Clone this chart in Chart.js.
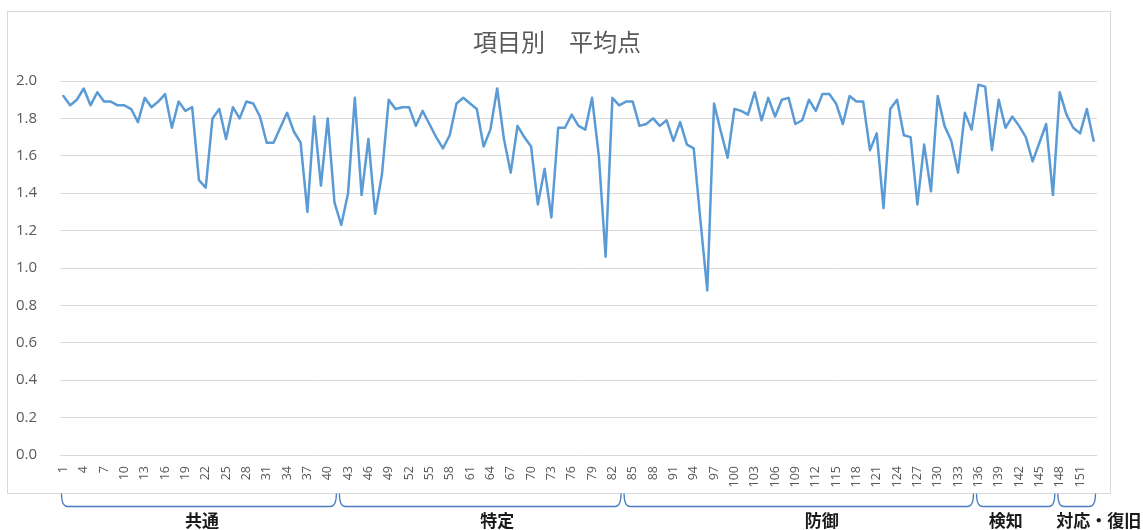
<!DOCTYPE html>
<html>
<head>
<meta charset="utf-8">
<script src="https://cdn.jsdelivr.net/npm/chart.js@4.4.1/dist/chart.umd.min.js"></script>
<style>
  html, body { margin: 0; padding: 0; background: #ffffff; }
  canvas { display: block; }
</style>
</head>
<body>
<canvas id="c" width="1143" height="530"></canvas>
<script>
// ---- data ----
const chartTitle = "項目別　平均点";
const groupNames = ["共通", "特定", "防御", "検知", "対応・復旧"];
const groupSizes = [41, 42, 52, 12, 6];
const yTicks = [0.0, 0.2, 0.4, 0.6, 0.8, 1.0, 1.2, 1.4, 1.6, 1.8, 2.0];
const scores = [
  1.92, 1.87, 1.90, 1.96, 1.87, 1.94, 1.89, 1.89, 1.87, 1.87,
  1.85, 1.78, 1.91, 1.86, 1.89, 1.93, 1.75, 1.89, 1.84, 1.86,
  1.47, 1.43, 1.80, 1.85, 1.69, 1.86, 1.80, 1.89, 1.88, 1.81,
  1.67, 1.67, 1.75, 1.83, 1.73, 1.67, 1.30, 1.81, 1.44, 1.80,
  1.35, 1.23, 1.40, 1.91, 1.39, 1.69, 1.29, 1.50, 1.90, 1.85,
  1.86, 1.86, 1.76, 1.84, 1.77, 1.70, 1.64, 1.71, 1.88, 1.91,
  1.88, 1.85, 1.65, 1.74, 1.96, 1.69, 1.51, 1.76, 1.70, 1.65,
  1.34, 1.53, 1.27, 1.75, 1.75, 1.82, 1.76, 1.74, 1.91, 1.60,
  1.06, 1.91, 1.87, 1.89, 1.89, 1.76, 1.77, 1.80, 1.76, 1.79,
  1.68, 1.78, 1.66, 1.64, 1.25, 0.88, 1.88, 1.73, 1.59, 1.85,
  1.84, 1.82, 1.94, 1.79, 1.91, 1.81, 1.90, 1.91, 1.77, 1.79,
  1.90, 1.84, 1.93, 1.93, 1.88, 1.77, 1.92, 1.89, 1.89, 1.63,
  1.72, 1.32, 1.85, 1.90, 1.71, 1.70, 1.34, 1.66, 1.41, 1.92,
  1.76, 1.68, 1.51, 1.83, 1.74, 1.98, 1.97, 1.63, 1.90, 1.75,
  1.81, 1.76, 1.70, 1.57, 1.67, 1.77, 1.39, 1.94, 1.82, 1.75,
  1.72, 1.85, 1.68
];
const itemLabels = scores.map((_, i) => String(i + 1));

// ---- decorations plugin: title, outer border, group brackets ----
const decorations = {
  id: 'decorations',
  afterDraw(chart, args, opts) {
    const ctx = chart.ctx;
    const x = chart.scales.x;
    ctx.save();
    // outer border
    ctx.strokeStyle = '#d9d9d9';
    ctx.lineWidth = 1;
    ctx.strokeRect(7.5, 11.5, 1103, 482);
    // title
    ctx.fillStyle = '#595959';
    ctx.font = "24px 'Noto Sans CJK JP', sans-serif";
    ctx.textAlign = 'center';
    ctx.textBaseline = 'middle';
    ctx.fillText(chartTitle, 557, 42);
    // group brackets
    const half = (x.getPixelForValue(1) - x.getPixelForValue(0)) / 2;
    let start = 0;
    const top = 493.5, bottom = 506.5, r = 6;
    groupNames.forEach((name, g) => {
      const end = start + groupSizes[g] - 1;
      const l = x.getPixelForValue(start) - half + 1.5;
      const rt = x.getPixelForValue(end) + half - 1.5;
      ctx.strokeStyle = '#4a7ebf';
      ctx.lineWidth = 1.3;
      ctx.beginPath();
      ctx.moveTo(l, top);
      ctx.quadraticCurveTo(l, bottom, l + r, bottom);
      ctx.lineTo(rt - r, bottom);
      ctx.quadraticCurveTo(rt, bottom, rt, top);
      ctx.stroke();
      ctx.fillStyle = '#1a1a1a';
      ctx.font = "bold 17px 'Noto Sans CJK JP', sans-serif";
      ctx.textAlign = 'center';
      ctx.textBaseline = 'middle';
      ctx.fillText(name, (l + rt) / 2 + opts.labelShift[g], 521);
      start = end + 1;
    });
    ctx.restore();
  }
};

new Chart(document.getElementById('c'), {
  type: 'line',
  data: {
    labels: itemLabels,
    datasets: [{
      data: scores,
      borderColor: '#5B9BD5',
      backgroundColor: '#5B9BD5',
      borderWidth: 2.5,
      pointRadius: 0,
      pointHoverRadius: 0,
      tension: 0,
      borderJoinStyle: 'round',
      borderCapStyle: 'round',
      fill: false
    }]
  },
  options: {
    responsive: false,
    devicePixelRatio: 1,
    animation: false,
    events: [],
    layout: { padding: { top: 81, right: 46, left: 0, bottom: 0 } },
    plugins: {
      legend: { display: false },
      title: { display: false },
      tooltip: { enabled: false },
      decorations: { labelShift: [3, 17, 23, -10, 22] }
    },
    scales: {
      x: {
        type: 'category',
        offset: true,
        grid: { display: false, drawTicks: false },
        border: { display: false },
        afterFit(s) { s.height = 75; },
        ticks: {
          autoSkip: false,
          maxRotation: 90,
          minRotation: 90,
          padding: 11,
          color: '#595959',
          font: { family: "'Open Sans', 'Noto Sans', sans-serif", size: 12.5 },
          callback(v, i) { return i % 3 === 0 ? itemLabels[i] : ''; }
        }
      },
      y: {
        min: yTicks[0],
        max: yTicks[yTicks.length - 1],
        afterFit(s) { s.width = 60; },
        afterBuildTicks(s) { s.ticks = yTicks.map(v => ({ value: v })); },
        grid: { color: '#d9d9d9', lineWidth: 1, drawTicks: false },
        border: { display: false },
        ticks: {
          padding: 23,
          color: '#595959',
          font: { family: "'Open Sans', 'Noto Sans', sans-serif", size: 15 },
          callback(v) { return Number(v).toFixed(1); }
        }
      }
    }
  },
  plugins: [decorations]
});
</script>
</body>
</html>
